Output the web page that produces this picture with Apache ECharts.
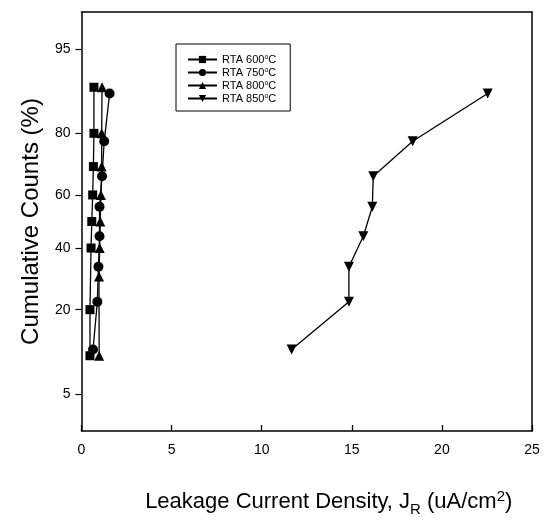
<!DOCTYPE html>
<html>
<head>
<meta charset="utf-8">
<script src="https://cdn.jsdelivr.net/npm/echarts@6/dist/echarts.min.js"></script>
<style>
  html, body { margin: 0; padding: 0; background: #fff; }
  #chart { width: 549px; height: 522px; }
</style>
</head>
<body>
<div id="chart"></div>
<script>
// values (x in uA/cm2, y as cumulative %)
var seriesNames = ['RTA 600ºC', 'RTA 750ºC', 'RTA 800ºC', 'RTA 850ºC'];
var x600 = [0.47, 0.47, 0.53, 0.57, 0.62, 0.66, 0.69, 0.69];
var p600 = [10, 20, 40, 50, 60, 70, 80, 90];
var x750 = [0.64, 0.88, 0.94, 1.0, 1.0, 1.14, 1.26, 1.56];
var p750 = [11.1, 22.2, 33.3, 44.4, 55.6, 66.7, 77.8, 88.9];
var x800 = [0.98, 0.97, 1.01, 1.04, 1.08, 1.12, 1.12, 1.14];
var p800 = [10, 30, 40, 50, 60, 70, 80, 90];
var x850 = [11.66, 14.84, 14.84, 15.64, 16.14, 16.19, 18.38, 22.54];
var p850 = [11.1, 22.2, 33.3, 44.4, 55.6, 66.7, 77.8, 88.9];
var yTicks = [5, 20, 40, 60, 80, 95];

// inverse normal CDF (Acklam) – probability scale
function probit(p) {
  var a = [-3.969683028665376e+01, 2.209460984245205e+02, -2.759285104469687e+02, 1.383577518672690e+02, -3.066479806614716e+01, 2.506628277459239e+00];
  var b = [-5.447609879822406e+01, 1.615858368580409e+02, -1.556989798598866e+02, 6.680131188771972e+01, -1.328068155288572e+01];
  var c = [-7.784894002430293e-03, -3.223964580411365e-01, -2.400758277161838e+00, -2.549732539343734e+00, 4.374664141464968e+00, 2.938163982698783e+00];
  var d = [7.784695709041462e-03, 3.224671290700398e-01, 2.445134137142996e+00, 3.754408661907416e+00];
  var pl = 0.02425, q, r;
  if (p < pl) {
    q = Math.sqrt(-2 * Math.log(p));
    return (((((c[0]*q+c[1])*q+c[2])*q+c[3])*q+c[4])*q+c[5]) / ((((d[0]*q+d[1])*q+d[2])*q+d[3])*q+1);
  }
  if (p > 1 - pl) {
    q = Math.sqrt(-2 * Math.log(1 - p));
    return -(((((c[0]*q+c[1])*q+c[2])*q+c[3])*q+c[4])*q+c[5]) / ((((d[0]*q+d[1])*q+d[2])*q+d[3])*q+1);
  }
  q = p - 0.5; r = q * q;
  return (((((a[0]*r+a[1])*r+a[2])*r+a[3])*r+a[4])*r+a[5])*q / (((((b[0]*r+b[1])*r+b[2])*r+b[3])*r+b[4])*r+1);
}

function pts(xs, ps) {
  return xs.map(function (x, i) { return [x, probit(ps[i] / 100)]; });
}

var yTickZ = yTicks.map(function (t) { return probit(t / 100); });
var font = 'Liberation Sans, Arial, Helvetica, sans-serif';

var myChart = echarts.init(document.getElementById('chart'));

function mk(name, data, symbol, rotate) {
  return {
    name: name,
    type: 'line',
    data: data,
    symbol: symbol,
    symbolSize: symbol === 'rect' ? 9 : 10,
    symbolRotate: rotate || 0,
    showAllSymbol: true,
    lineStyle: { color: '#000', width: 1.3 },
    itemStyle: { color: '#000' },
    animation: false
  };
}

var frameLine = { show: true, onZero: false, lineStyle: { color: '#000', width: 1.5 } };

var option = {
  animation: false,
  grid: { left: 81.5, right: 17, top: 12, bottom: 83, show: false },
  legend: {
    left: 176, top: 44,
    orient: 'vertical',
    width: 113,
    padding: [10, 14, 7, 11],
    itemGap: 2,
    itemWidth: 29, itemHeight: 9,
    borderColor: '#000', borderWidth: 1,
    backgroundColor: '#fff',
    data: seriesNames,
    formatter: function (n) { return n.replace('ºC', '{s|o}C'); },
    textStyle: {
      fontFamily: font, fontSize: 11, color: '#000', lineHeight: 11,
      rich: { s: { fontFamily: font, fontSize: 7, color: '#000', verticalAlign: 'top', lineHeight: 11 } }
    }
  },
  xAxis: [{
    type: 'value', min: 0, max: 25, interval: 5, position: 'bottom',
    name: 'Leakage Current Density, J{sub|R} (uA/cm{sup|2})',
    nameLocation: 'middle', nameGap: 55,
    nameTextStyle: {
      fontFamily: font, fontSize: 22, color: '#000', padding: [0, 0, 0, 44],
      rich: {
        sub: { fontFamily: font, fontSize: 15, color: '#000', padding: [16, 0, 0, 0] },
        sup: { fontFamily: font, fontSize: 15, color: '#000', padding: [0, 0, 9, 0] }
      }
    },
    axisLine: frameLine,
    axisTick: { show: true, inside: true, length: 6, lineStyle: { color: '#000', width: 1.3 } },
    axisLabel: { fontFamily: font, fontSize: 14, color: '#000', margin: 12 },
    splitLine: { show: false }
  }, {
    type: 'value', min: 0, max: 25, interval: 5, position: 'top',
    axisLine: frameLine, axisTick: { show: false }, axisLabel: { show: false }, splitLine: { show: false }
  }],
  yAxis: [{
    type: 'value', min: -2, max: 2, position: 'left',
    name: 'Cumulative Counts (%)',
    nameLocation: 'middle', nameRotate: 90, nameGap: 38,
    nameTextStyle: { fontFamily: font, fontSize: 24, color: '#000' },
    axisLine: frameLine,
    axisTick: { show: true, inside: false, length: 6, customValues: yTickZ, lineStyle: { color: '#000', width: 1.2 } },
    axisLabel: {
      fontFamily: font, fontSize: 14, color: '#000', margin: 11,
      customValues: yTickZ,
      formatter: function (v) {
        for (var i = 0; i < yTickZ.length; i++) {
          if (Math.abs(yTickZ[i] - v) < 1e-6) return String(yTicks[i]);
        }
        return '';
      }
    },
    splitLine: { show: false }
  }, {
    type: 'value', min: -2, max: 2, position: 'right',
    axisLine: frameLine, axisTick: { show: false }, axisLabel: { show: false }, splitLine: { show: false }
  }],
  series: [
    mk(seriesNames[0], pts(x600, p600), 'rect'),
    mk(seriesNames[1], pts(x750, p750), 'circle'),
    mk(seriesNames[2], pts(x800, p800), 'triangle'),
    mk(seriesNames[3], pts(x850, p850), 'triangle', 180)
  ]
};

myChart.setOption(option);
</script>
</body>
</html>
